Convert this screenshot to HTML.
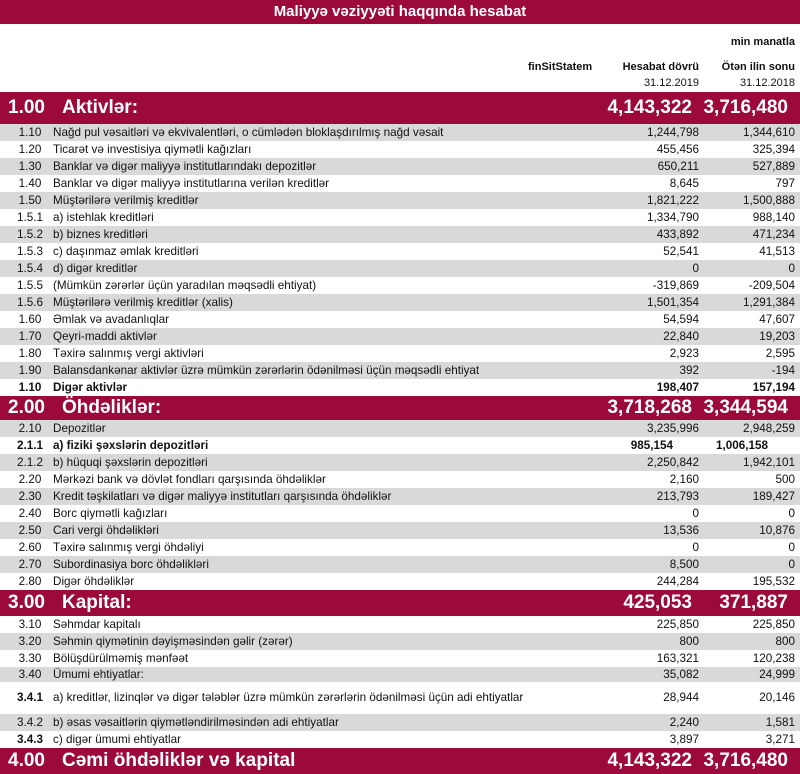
<!DOCTYPE html>
<html><head><meta charset="utf-8"><style>
body{margin:0;width:800px;height:774px;overflow:hidden;background:#fff;font-family:"Liberation Sans",sans-serif;}
.t{position:absolute;left:0;top:0;width:800px;height:24px;background:#9b0a3a;color:#fff;font-weight:bold;font-size:15px;text-align:center;line-height:24px;}
.h{position:absolute;font-size:11px;font-weight:bold;color:#111;}
.r{position:absolute;left:0;width:800px;font-size:11.7px;color:#111;}
.r span{position:absolute;top:0;white-space:nowrap;}
.g{background:#d9d9d9;}
.c{left:8px;width:44px;text-align:center;}
.b{position:absolute;left:0;width:800px;background:#9b0a3a;color:#fff;font-weight:bold;font-size:19px;}
.b span{position:absolute;top:0;white-space:nowrap;}
</style></head><body>
<div class="t">Maliyyə vəziyyəti haqqında hesabat</div>
<div class="h" style="right:5px;top:36px">min manatla</div>
<div class="h" style="left:528px;top:61px">finSitStatem</div>
<div class="h" style="right:101px;top:61px">Hesabat dövrü</div>
<div class="h" style="right:5px;top:61px">Ötən ilin sonu</div>
<div class="h" style="right:101px;top:77px;font-weight:normal">31.12.2019</div>
<div class="h" style="right:5px;top:77px;font-weight:normal">31.12.2018</div>
<div id="c"></div>
<script>
var rows=[
['B',92,32,'1.00','Aktivlər:','4,143,322','3,716,480',0],
['1.10','Nağd pul vəsaitləri və  ekvivalentləri, o cümlədən bloklaşdırılmış nağd vəsait','1,244,798','1,344,610'],
['1.20','Ticarət və investisiya qiymətli kağızları','455,456','325,394'],
['1.30','Banklar və digər maliyyə institutlarındakı depozitlər','650,211','527,889'],
['1.40','Banklar və digər maliyyə institutlarına verilən kreditlər','8,645','797'],
['1.50','Müştərilərə verilmiş kreditlər','1,821,222','1,500,888'],
['1.5.1','a) istehlak kreditləri','1,334,790','988,140'],
['1.5.2','b) biznes kreditləri','433,892','471,234'],
['1.5.3','c) daşınmaz əmlak kreditləri','52,541','41,513'],
['1.5.4','d) digər kreditlər','0','0'],
['1.5.5','(Mümkün zərərlər üçün yaradılan məqsədli ehtiyat)','-319,869','-209,504'],
['1.5.6','Müştərilərə verilmiş kreditlər (xalis)','1,501,354','1,291,384'],
['1.60','Əmlak və avadanlıqlar','54,594','47,607'],
['1.70','Qeyri-maddi aktivlər','22,840','19,203'],
['1.80','Təxirə salınmış vergi aktivləri','2,923','2,595'],
['1.90','Balansdankənar aktivlər üzrə mümkün zərərlərin ödənilməsi üçün məqsədli ehtiyat','392','-194'],
['1.10','Digər aktivlər','198,407','157,194','bold'],
['B',396,24,'2.00','Öhdəliklər:','3,718,268','3,344,594',0],
['2.10','Depozitlər','3,235,996','2,948,259'],
['2.1.1','a) fiziki şəxslərin depozitləri','985,154','1,006,158','bold2'],
['2.1.2','b) hüquqi şəxslərin depozitləri','2,250,842','1,942,101'],
['2.20','Mərkəzi bank və dövlət fondları qarşısında öhdəliklər','2,160','500'],
['2.30','Kredit təşkilatları və digər maliyyə institutları qarşısında öhdəliklər','213,793','189,427'],
['2.40','Borc qiymətli kağızları','0','0'],
['2.50','Cari vergi öhdəlikləri','13,536','10,876'],
['2.60','Təxirə salınmış vergi öhdəliyi','0','0'],
['2.70','Subordinasiya borc öhdəlikləri','8,500','0'],
['2.80','Digər öhdəliklər','244,284','195,532'],
['B',590,26,'3.00','Kapital:','425,053','371,887',1],
['3.10','Səhmdar kapitalı','225,850','225,850'],
['3.20','Səhmin qiymətinin dəyişməsindən gəlir (zərər)','800','800'],
['3.30','Bölüşdürülməmiş mənfəət','163,321','120,238'],
['3.40','Ümumi ehtiyatlar:','35,082','24,999',null,15],
['3.4.1','a) kreditlər, lizinqlər və digər tələblər üzrə mümkün zərərlərin ödənilməsi üçün adi ehtiyatlar','28,944','20,146','code',32],
['3.4.2','b) əsas vəsaitlərin qiymətləndirilməsindən adi ehtiyatlar','2,240','1,581'],
['3.4.3','c) digər ümumi ehtiyatlar','3,897','3,271','code'],
['B',748,26,'4.00','Cəmi öhdəliklər və kapital','4,143,322','3,716,480',0]
];
var h='',y=0,idx=0;
rows.forEach(function(r){
 if(r[0]=='B'){y=r[1]+r[2];idx=r[7];
  h+='<div class="b" style="top:'+r[1]+'px;height:'+r[2]+'px;line-height:'+r[2]+'px"><span style="left:8px">'+r[3]+'</span><span style="left:62px">'+r[4]+'</span><span style="right:108px">'+r[5]+'</span><span style="right:12px">'+r[6]+'</span></div>';return;}
 var ht=r[5]||17, st=r[4];
 var cb=(st=='bold'||st=='bold2'||st=='code')?'font-weight:bold;':'';
 var lb=(st=='bold'||st=='bold2')?'font-weight:bold;':'';
 var v1=st=='bold2'?'right:127px':'right:101px', v2=st=='bold2'?'right:32px':'right:5px';
 h+='<div class="r'+(idx%2==0?' g':'')+'" style="top:'+y+'px;height:'+ht+'px;line-height:'+ht+'px"><span class="c" style="'+cb+'">'+r[0]+'</span><span style="left:53px;'+lb+'">'+r[1]+'</span><span style="'+v1+';'+lb+'">'+r[2]+'</span><span style="'+v2+';'+lb+'">'+r[3]+'</span></div>';
 y+=ht;idx++;
});
document.getElementById('c').innerHTML=h;
</script>
</body></html>
